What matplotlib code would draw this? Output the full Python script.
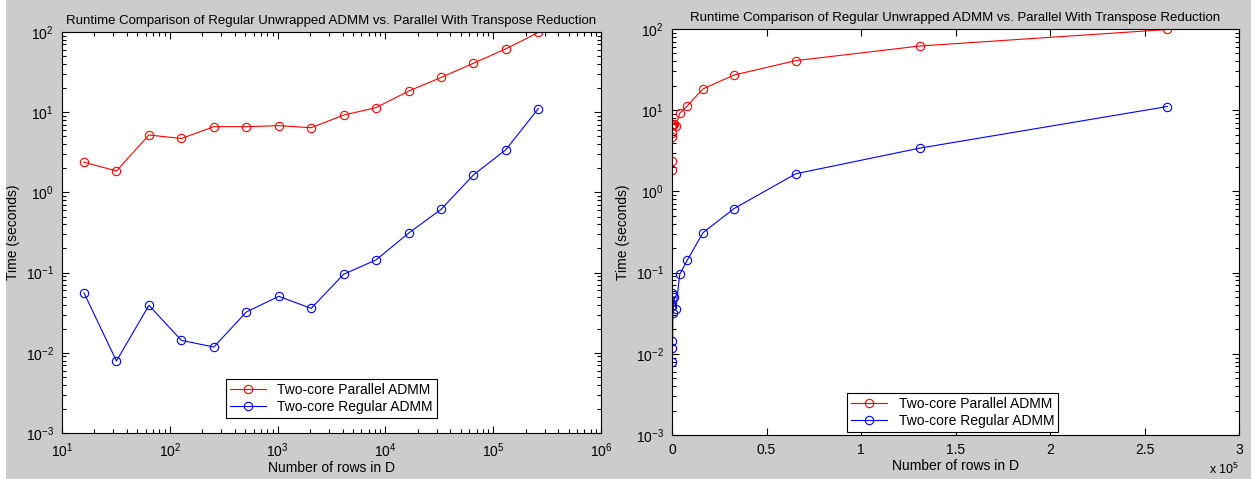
import matplotlib
matplotlib.use("Agg")
import matplotlib.pyplot as plt
import numpy as np
from matplotlib.ticker import LogLocator, NullFormatter
from matplotlib.patches import Rectangle

plt.rcParams['font.family'] = ['Liberation Sans', 'DejaVu Sans']
plt.rcParams['mathtext.fontset'] = 'custom'
plt.rcParams['mathtext.rm'] = 'Liberation Sans'
plt.rcParams['mathtext.it'] = 'Liberation Sans'
plt.rcParams['mathtext.bf'] = 'Liberation Sans'

rows = [16, 32, 64, 128, 256, 512, 1024, 2048, 4096, 8192, 16384, 32768, 65536, 131072, 262144]
parallel_time = [2.38, 1.85, 5.2, 4.7, 6.6, 6.6, 6.8, 6.4, 9.2, 11.4, 18.3, 27.1, 40.8, 61.7, 98.6]
regular_time = [0.0557, 0.0079, 0.0391, 0.0143, 0.0118, 0.0322, 0.0506, 0.0358, 0.0953, 0.144, 0.310, 0.613, 1.65, 3.41, 11.1]
labels = ['Two-core Parallel ADMM', 'Two-core Regular ADMM']
title = 'Runtime Comparison of Regular Unwrapped ADMM vs. Parallel With Transpose Reduction'
right_xticks = [0, 0.5e5, 1e5, 1.5e5, 2e5, 2.5e5, 3e5]
right_xticklabels = ['0', '0.5', '1', '1.5', '2', '2.5', '3']

fig = plt.figure(figsize=(12.51, 4.79), dpi=100, facecolor='#cccccc')
W, H = 1251, 479
fig.patches.append(Rectangle((0, 0), 6 / W, 1, transform=fig.transFigure, facecolor='white', edgecolor='none'))
axL = fig.add_axes([62 / W, 1 - 433 / H, (601 - 62) / W, (433 - 32) / H])
axR = fig.add_axes([672 / W, 1 - 435 / H, (1239 - 672) / W, (435 - 29) / H])

def style(ax):
    ax.set_facecolor('white')
    for s in ax.spines.values():
        s.set_color('black')
        s.set_linewidth(0.8)
    ax.tick_params(which='both', direction='in', top=True, right=True, labelsize=10, colors='black', pad=6)
    ax.tick_params(which='major', length=5, width=0.8)
    ax.tick_params(which='minor', length=3, width=0.8)

for ax in (axL, axR):
    ax.plot(rows, parallel_time, color='red', marker='o', mfc='none', ms=6, lw=0.8, mew=0.8, label=labels[0])
    ax.plot(rows, regular_time, color='blue', marker='o', mfc='none', ms=6, lw=0.8, mew=0.8, label=labels[1])
    ax.set_yscale('log')
    ax.set_ylim(1e-3, 1e2)
    ax.yaxis.set_major_locator(LogLocator(base=10, numticks=100))
    ax.yaxis.set_minor_locator(LogLocator(base=10, subs=np.arange(2, 10), numticks=100))
    ax.yaxis.set_minor_formatter(NullFormatter())
    style(ax)
    ax.set_title(title, fontsize=9.5, pad=6)
    ax.set_ylabel('Time (seconds)', fontsize=10, labelpad=4)
    ax.set_xlabel('Number of rows in D', fontsize=10, labelpad=1)

legL = axL.legend(loc='lower center', bbox_to_anchor=(0.5, 0.037), fontsize=10, fancybox=False,
                  edgecolor='black', framealpha=1, handlelength=2.6, borderpad=0.3, labelspacing=0.2,
                  borderaxespad=0)
legR = axR.legend(loc='lower center', bbox_to_anchor=(0.495, 0.007), fontsize=10, fancybox=False,
                  edgecolor='black', framealpha=1, handlelength=2.6, borderpad=0.3, labelspacing=0.2,
                  borderaxespad=0)
for leg in (legL, legR):
    leg.get_frame().set_linewidth(0.8)

axL.set_xscale('log')
axL.set_xlim(10, 1e6)
axL.xaxis.set_major_locator(LogLocator(base=10, numticks=100))
axL.xaxis.set_minor_locator(LogLocator(base=10, subs=np.arange(2, 10), numticks=100))
axL.xaxis.set_minor_formatter(NullFormatter())

axR.set_xlim(0, 3e5)
axR.set_xticks(right_xticks)
axR.set_xticklabels(right_xticklabels)
axR.text(1.0, -0.085, r'x 10$^5$', transform=axR.transAxes, ha='right', va='center', fontsize=9)

fig.savefig('out.png', dpi=100, facecolor=fig.get_facecolor())
